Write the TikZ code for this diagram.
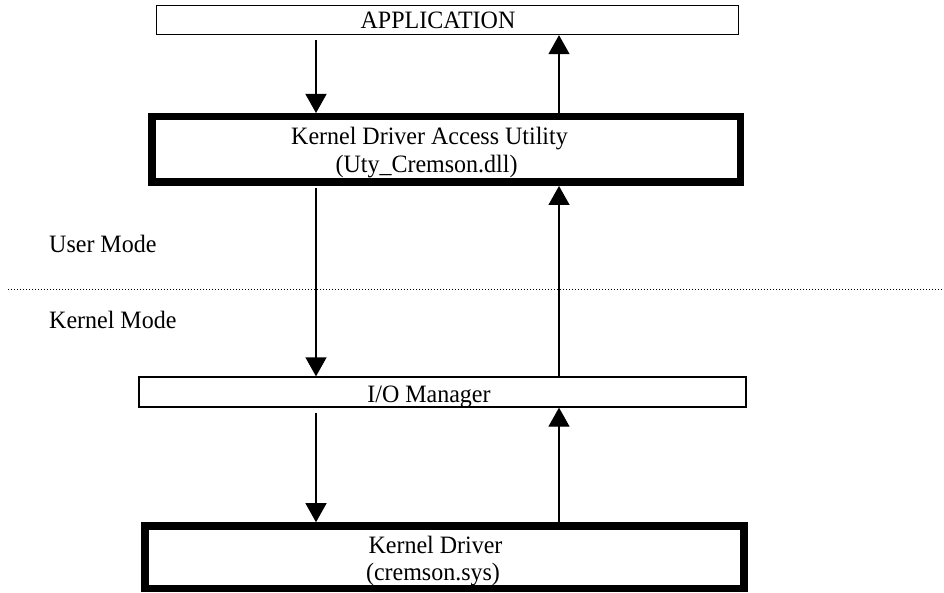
\documentclass[tikz,border=0pt]{standalone}
\usepackage{fontspec}
\setmainfont[FakeStretch=0.96]{Liberation Serif}
\usetikzlibrary{arrows.meta}
\begin{document}
\begin{tikzpicture}[x=1pt,y=-1pt,
  thinbox/.style={draw=black,line width=1.3pt,inner sep=0pt,fill=white},
  thickbox/.style={draw=black,line width=7.5pt,inner sep=0pt,fill=white},
  lbl/.style={inner sep=0pt,anchor=base,font=\fontsize{25}{28}\selectfont},
  side/.style={inner sep=0pt,anchor=base west,font=\fontsize{25}{28}\selectfont},
  arr/.style={line width=1.3pt,-{Triangle[width=21pt,length=19pt]}}]
\useasboundingbox (0,0) rectangle (944,593);
% boxes
\node[thinbox,minimum width=582pt,minimum height=29pt] (app) at (447.5,20) {};
\node[thickbox,minimum width=588.5pt,minimum height=65.5pt] (kdau) at (446,149.5) {};
\node[thinbox,minimum width=607pt,minimum height=30pt] (io) at (442.5,392) {};
\node[thickbox,minimum width=599pt,minimum height=62.5pt] (kd) at (444.4,557.2) {};
% texts
\node[lbl] (appT) at (438,29) {APPLICATION};
\node[lbl] (kdauA) at (429.5,145) {Kernel Driver Access Utility};
\node[lbl] (kdauB) at (426.5,173) {(Uty\_Cremson.dll)};
\node[lbl] (ioT) at (429,402) {I/O Manager};
\node[lbl] (kdA) at (435.5,553) {Kernel Driver};
\node[lbl] (kdB) at (433,580) {(cremson.sys)};
\node[side] (um) at (49,253) {User Mode};
\node[side] (km) at (49,328) {Kernel Mode};
% boundary
\coordinate (dl) at (8,289.5);
\coordinate (dr) at (944,289.5);
\draw[line width=1pt,dash pattern=on 1pt off 2pt] (dl) -- (dr);
% connectors
\coordinate (L) at (316,0);
\coordinate (R) at (559,0);
\draw[arr] ([yshift=-5pt]app.south -| L) -- (kdau.north -| L);
\draw[arr] (kdau.north -| R) -- (app.south -| R);
\draw[arr] ([yshift=-2pt]kdau.south -| L) -- (io.north -| L);
\draw[arr] (io.north -| R) -- (kdau.south -| R);
\draw[arr] ([yshift=-5pt]io.south -| L) -- (kd.north -| L);
\draw[arr] (kd.north -| R) -- (io.south -| R);
\end{tikzpicture}
\end{document}
